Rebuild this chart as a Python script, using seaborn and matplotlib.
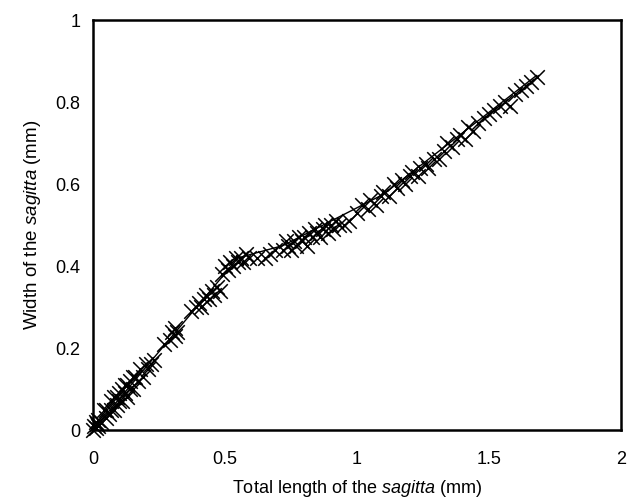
import matplotlib
matplotlib.use("Agg")
import matplotlib.pyplot as plt
import seaborn as sns
import pandas as pd

# ---- data ----
x_origin = [0.00, 0.005, 0.01, 0.01, 0.015, 0.02, 0.02, 0.03]
y_origin = [0.00, 0.01, 0.005, 0.02, 0.015, 0.01, 0.025, 0.02]

x_small = [0.04, 0.05, 0.05, 0.06, 0.07, 0.07, 0.08, 0.08, 0.09, 0.09, 0.10, 0.10, 0.11, 0.11, 0.12,
           0.12, 0.13, 0.13, 0.14, 0.14, 0.15, 0.15, 0.16, 0.17, 0.18, 0.19, 0.20, 0.21, 0.22, 0.23]
y_small = [0.05, 0.03, 0.05, 0.04, 0.07, 0.05, 0.05, 0.08, 0.06, 0.08, 0.09, 0.07, 0.07, 0.10, 0.09,
           0.11, 0.08, 0.11, 0.12, 0.10, 0.13, 0.10, 0.13, 0.12, 0.15, 0.13, 0.16, 0.15, 0.16, 0.17]

x_mid1 = [0.27, 0.29, 0.30, 0.31, 0.31, 0.32,
          0.37, 0.39, 0.40, 0.41, 0.42, 0.43, 0.44, 0.45, 0.46, 0.47, 0.48]
y_mid1 = [0.21, 0.22, 0.24, 0.23, 0.25, 0.24,
          0.29, 0.30, 0.31, 0.30, 0.32, 0.33, 0.32, 0.34, 0.33, 0.35, 0.34]

x_mid2 = [0.49, 0.50, 0.51, 0.52, 0.53, 0.54, 0.55, 0.56, 0.57, 0.58, 0.59,
          0.62, 0.65, 0.67, 0.69]
y_mid2 = [0.38, 0.40, 0.39, 0.41, 0.40, 0.42, 0.41, 0.42, 0.41, 0.43, 0.42,
          0.42, 0.42, 0.43, 0.44]

x_mid3 = [0.72, 0.73, 0.74, 0.75, 0.76, 0.77, 0.78, 0.79, 0.80, 0.81, 0.82, 0.83, 0.84, 0.85,
          0.86, 0.87, 0.88, 0.89, 0.90, 0.91, 0.92, 0.93, 0.95, 0.97]
y_mid3 = [0.44, 0.46, 0.45, 0.44, 0.46, 0.45, 0.47, 0.46, 0.47, 0.45, 0.48, 0.47, 0.49, 0.48,
          0.47, 0.49, 0.50, 0.48, 0.50, 0.49, 0.51, 0.50, 0.50, 0.51]

x_large1 = [1.00, 1.02, 1.04, 1.05, 1.07, 1.09, 1.10, 1.12, 1.14, 1.15, 1.17, 1.18, 1.20, 1.21,
            1.23, 1.24, 1.26, 1.27, 1.29]
y_large1 = [0.53, 0.55, 0.54, 0.56, 0.55, 0.57, 0.58, 0.57, 0.60, 0.59, 0.61, 0.60, 0.62, 0.63,
            0.62, 0.64, 0.65, 0.64, 0.66]

x_large2 = [1.31, 1.33, 1.34, 1.36, 1.38, 1.39, 1.41, 1.42, 1.44, 1.46, 1.48, 1.50, 1.52, 1.54,
            1.56, 1.58, 1.60, 1.62, 1.64, 1.66, 1.68]
y_large2 = [0.66, 0.68, 0.70, 0.69, 0.71, 0.72, 0.71, 0.74, 0.73, 0.75, 0.76, 0.77, 0.78, 0.79,
            0.80, 0.79, 0.82, 0.83, 0.84, 0.85, 0.86]

# fitted curve through the points
line_x = [0.0, 0.55, 0.72, 1.10, 1.68]
line_y = [0.0, 0.42, 0.45, 0.575, 0.865]

x_ticks = [0, 0.5, 1, 1.5, 2]
x_tick_labels = ["0", "0.5", "1", "1.5", "2"]
y_ticks = [0, 0.2, 0.4, 0.6, 0.8, 1]
y_tick_labels = ["0", "0.2", "0.4", "0.6", "0.8", "1"]

# ---- build table ----
xs = x_origin + x_small + x_mid1 + x_mid2 + x_mid3 + x_large1 + x_large2
ys = y_origin + y_small + y_mid1 + y_mid2 + y_mid3 + y_large1 + y_large2
df = pd.DataFrame({"length": xs, "width": ys})
df_line = pd.DataFrame({"length": line_x, "width": line_y})

sns.set_style("white")
plt.rcParams["font.family"] = ["Liberation Sans", "DejaVu Sans"]
plt.rcParams["mathtext.fontset"] = "custom"
plt.rcParams["mathtext.rm"] = "Liberation Sans"
plt.rcParams["mathtext.it"] = "Liberation Sans:italic"
plt.rcParams["text.color"] = "black"
plt.rcParams["axes.labelcolor"] = "black"

fig = plt.figure(figsize=(6.28, 5.01), dpi=100)
ax = fig.add_axes([0.148, 0.1417, 0.841, 0.8183])

sns.lineplot(data=df_line, x="length", y="width", color="black", linewidth=1.0, ax=ax,
             estimator=None, sort=False)
sns.scatterplot(data=df, x="length", y="width", marker="x", s=110, color="black",
                linewidth=1.1, ax=ax, zorder=3, clip_on=False)

ax.set_xlim(0, 2)
ax.set_ylim(0, 1)
ax.set_xticks(x_ticks)
ax.set_xticklabels(x_tick_labels)
ax.set_yticks(y_ticks)
ax.set_yticklabels(y_tick_labels)
ax.tick_params(axis="both", direction="in", length=6, width=1.5, labelsize=13,
               pad=9, colors="black", labelcolor="black")
ax.tick_params(axis="x", pad=15)

for s in ax.spines.values():
    s.set_linewidth(1.8)
    s.set_color("black")

ax.set_xlabel("Total length of the $\\it{sagitta}$ (mm)", fontsize=13, labelpad=7,
              color="black")
ax.set_ylabel("Width of the $\\it{sagitta}$ (mm)", fontsize=13.5, labelpad=9,
              color="black")

fig.savefig("out.png", dpi=100, facecolor="white")
